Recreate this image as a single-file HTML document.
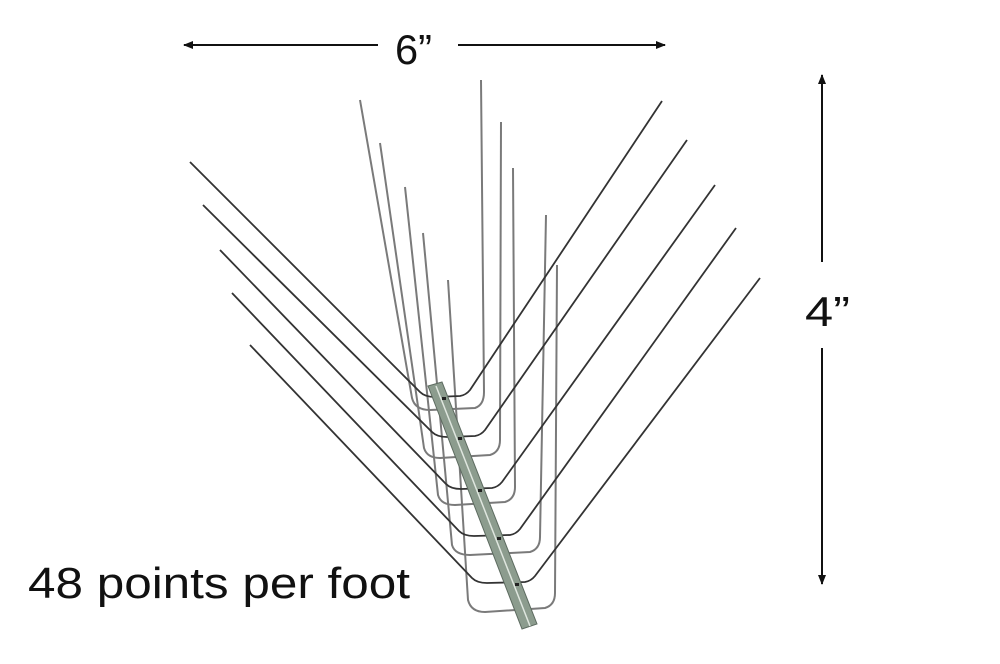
<!DOCTYPE html>
<html><head><style>
html,body{margin:0;padding:0;background:#fff;}
svg{display:block}
</style></head><body>
<svg width="1000" height="664" viewBox="0 0 1000 664" xmlns="http://www.w3.org/2000/svg">
<defs>
<marker id="ah" markerWidth="10" markerHeight="8" refX="9" refY="4" orient="auto" markerUnits="userSpaceOnUse">
<path d="M0,0 L10,4 L0,8 Z" fill="#111"/></marker>
</defs>
<line x1="378" y1="45" x2="184" y2="45" stroke="#111" stroke-width="2" marker-end="url(#ah)"/>
<line x1="458" y1="45" x2="665" y2="45" stroke="#111" stroke-width="2" marker-end="url(#ah)"/>
<text x="395" y="64" font-family="Liberation Sans, sans-serif" font-size="42" textLength="37" lengthAdjust="spacingAndGlyphs" fill="#111">6”</text>
<line x1="822" y1="262" x2="822" y2="75" stroke="#111" stroke-width="2" marker-end="url(#ah)"/>
<line x1="822" y1="348" x2="822" y2="584" stroke="#111" stroke-width="2" marker-end="url(#ah)"/>
<text x="805" y="326" font-family="Liberation Sans, sans-serif" font-size="42" textLength="45" lengthAdjust="spacingAndGlyphs" fill="#111">4”</text>
<text x="28" y="598" font-family="Liberation Sans, sans-serif" font-size="44" textLength="382" lengthAdjust="spacingAndGlyphs" fill="#111">48 points per foot</text>
<g fill="none" stroke="#7a7a7a" stroke-width="2" stroke-linejoin="round">
<path d="M360,100 L412,398 Q415,410 430,410 L475,408 Q484,405 484,392 L481,80"/>
<path d="M380,143 L424,448 Q427,458 440,458 L490,455 Q500,452 500,440 L501,122"/>
<path d="M405,187 L438,495 Q441,505 455,505 L505,502 Q515,499 515,487 L513,168"/>
<path d="M423,233 L452,545 Q455,555 470,555 L530,552 Q540,549 540,537 L546,215"/>
<path d="M448,280 L468,600 Q471,612 485,612 L545,608 Q555,605 555,593 L557,265"/>
</g>
<g fill="none" stroke="#333" stroke-width="1.8" stroke-linejoin="round">
<path d="M190,162 L420,392 Q425,397 435,397 L460,396 Q466,395 470,390 L662,101"/>
<path d="M203,205 L432,432 Q437,437 447,437 L475,436 Q481,435 485,430 L687,140"/>
<path d="M220,250 L446,484 Q451,489 461,489 L492,488 Q498,487 502,482 L715,185"/>
<path d="M232,293 L459,531 Q464,536 474,536 L510,535 Q516,534 520,529 L736,228"/>
<path d="M250,345 L472,578 Q477,583 487,583 L525,582 Q531,581 535,576 L760,278"/>
</g>
<polygon points="428,386 442,382 537,624 522,629" fill="#8c9c8e" stroke="#5d6b60" stroke-width="1"/>
<line x1="436" y1="386" x2="530" y2="626" stroke="#dfe6df" stroke-width="1.5"/>
<g fill="#222">
<rect x="442" y="397" width="4" height="3"/><rect x="458" y="437" width="4" height="3"/>
<rect x="478" y="489" width="4" height="3"/><rect x="497" y="537" width="4" height="3"/>
<rect x="515" y="583" width="4" height="3"/>
</g>
</svg>
</body></html>
